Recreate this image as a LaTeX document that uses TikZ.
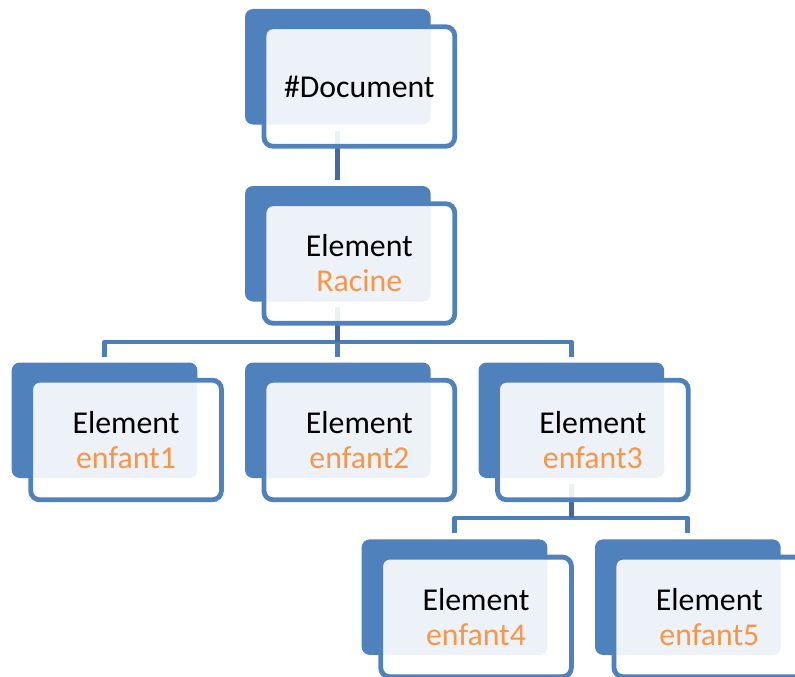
\documentclass[tikz,border=0pt]{standalone}
\usepackage{fontspec}
\setmainfont{Carlito}
\usetikzlibrary{calc}
\definecolor{boxblue}{RGB}{79,129,189}
\definecolor{stemblue}{RGB}{66,106,160}
\definecolor{barblue}{RGB}{78,126,186}
\definecolor{orangetxt}{RGB}{247,150,70}
\tikzset{
  backbox/.style={fill=boxblue, rounded corners=8pt, minimum width=185.7pt, minimum height=115.5pt, inner sep=0pt, outer sep=0pt},
  frontbox/.style={draw=boxblue, line width=4.8pt, fill=white, fill opacity=0.9, text opacity=1, rounded corners=9pt, minimum width=190.7pt, minimum height=119.6pt, inner sep=0pt, outer sep=0pt, align=center, font=\fontsize{31.8}{35}\selectfont},
  stem/.style={draw=stemblue, line width=5pt},
  bar/.style={draw=barblue, line width=4.8pt, line join=round}
}
\begin{document}
\begin{tikzpicture}[x=1pt,y=-1pt]
\clip (0,0) rectangle (795,677);
% back boxes
\node[backbox] (b1) at (337.85,66.75) {};
\node[backbox] (b2) at (337.85,243.75) {};
\node[backbox] (b3) at (104.55,420.25) {};
\node[backbox] (b4) at (337.85,420.25) {};
\node[backbox] (b5) at (571.35,420.25) {};
\node[backbox] (b6) at (454.55,597.15) {};
\node[backbox] (b7) at (687.85,597.15) {};
% connectors
\draw[stem] ([yshift=-6pt]b1.south) -- ([yshift=6pt]b2.north);
\draw[bar] ([yshift=6pt]b3.north) -- ([yshift=20.5pt]b3.north) -- ([yshift=20.5pt]b5.north) -- ([yshift=6pt]b5.north);
\draw[bar] ([yshift=20.5pt]b4.north) -- ([yshift=6pt]b4.north);
\draw[stem] ([yshift=-5pt]b2.south) -- ([yshift=20.5pt]b4.north);
\draw[bar] ([yshift=6pt]b6.north) -- ([yshift=21.5pt]b6.north) -- ([yshift=21.5pt]b7.north) -- ([yshift=6pt]b7.north);
\draw[stem] ([yshift=-6pt]b5.south) -- ([yshift=21.5pt]b5.south |- b6.north);
% front boxes
\node[frontbox] (f1) at (359.35,86.5) {\#Document};
\node[frontbox] (f2) at (359.35,263.5) {Element\\\textcolor{orangetxt}{Racine}};
\node[frontbox] (f3) at (126.05,440) {Element\\\textcolor{orangetxt}{enfant1}};
\node[frontbox] (f4) at (359.35,440) {Element\\\textcolor{orangetxt}{enfant2}};
\node[frontbox] (f5) at (592.85,440) {Element\\\textcolor{orangetxt}{enfant3}};
\node[frontbox] (f6) at (476.05,616.9) {Element\\\textcolor{orangetxt}{enfant4}};
\node[frontbox] (f7) at (709.35,616.9) {Element\\\textcolor{orangetxt}{enfant5}};
\end{tikzpicture}
\end{document}
